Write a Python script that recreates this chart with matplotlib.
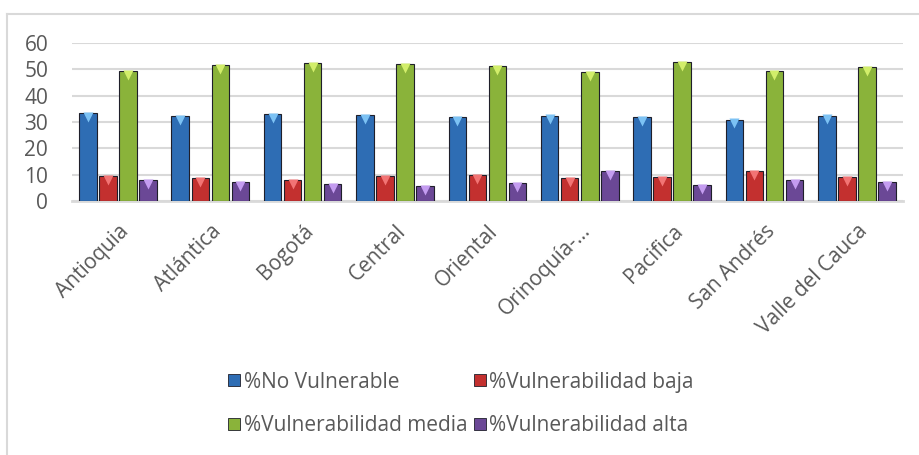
import matplotlib.pyplot as plt
import matplotlib.transforms as mtransforms
from matplotlib.lines import Line2D
import numpy as np

plt.rcParams['font.family'] = ['Open Sans', 'DejaVu Sans']

# data
regiones = ['Antioquia', 'Atlántica', 'Bogotá', 'Central', 'Oriental',
            'Orinoquía-…', 'Pacifica', 'San Andrés', 'Valle del Cauca']
no_vulnerable = [33.2, 32.1, 33.0, 32.6, 31.7, 32.4, 31.7, 30.9, 32.4]
vuln_baja = [9.5, 8.7, 8.0, 9.5, 9.8, 8.7, 9.1, 11.4, 9.1]
vuln_media = [49.2, 51.5, 52.3, 51.9, 51.1, 48.9, 52.7, 49.2, 50.8]
vuln_alta = [8.0, 7.2, 6.4, 5.7, 6.8, 11.4, 6.1, 8.0, 7.2]

series = [
    ('%No Vulnerable', no_vulnerable, '#2E6DB4', '#7CC2F4'),
    ('%Vulnerabilidad baja', vuln_baja, '#C3302F', '#F27474'),
    ('%Vulnerabilidad media', vuln_media, '#8AB33A', '#D2EE6A'),
    ('%Vulnerabilidad alta', vuln_alta, '#6B4896', '#C49CF0'),
]

text_color = '#595959'
grid_color = '#D9D9D9'

fig = plt.figure(figsize=(9.2, 4.55), dpi=100)
ax = fig.add_axes([0.078, 0.558, 0.9035, 0.348])

x = np.arange(len(regiones))
step = 0.217
width = 0.19
# shift triangles down a little so they sit inside the top of the bar
tri_offset = mtransforms.ScaledTranslation(0, -2.6 / 72, fig.dpi_scale_trans)

handles = []
for i, (name, vals, col, light) in enumerate(series):
    xs = x + (i - 1.5) * step
    ax.bar(xs, vals, width, color=col, edgecolor='#1f1f2a', linewidth=0.8, zorder=3)
    ax.plot(xs, vals, linestyle='none', marker='v', markersize=7,
            markerfacecolor=light, markeredgecolor='none', zorder=4,
            transform=ax.transData + tri_offset)
    handles.append(Line2D([], [], linestyle='none', marker='s', markersize=8,
                          markerfacecolor=col, markeredgecolor='#1f1f2a',
                          markeredgewidth=0.6, label=name))

ax.set_ylim(0, 60)
ax.set_xlim(-0.5, len(regiones) - 0.5)
ax.set_yticks(range(0, 61, 10))
ax.yaxis.grid(True, color=grid_color, linewidth=1.5, zorder=0)
ax.set_axisbelow(True)
for s in ['top', 'right', 'left']:
    ax.spines[s].set_visible(False)
ax.spines['bottom'].set_color(grid_color)
ax.spines['bottom'].set_linewidth(2)
ax.tick_params(axis='both', length=0, colors=text_color, labelsize=15)
ax.tick_params(axis='y', pad=17)
ax.set_xticks(x)
ax.set_xticklabels(regiones, rotation=45, ha='right', rotation_mode='anchor')
ax.tick_params(axis='x', pad=14)

# legend reads row by row: blue, red / green, purple
order = [0, 2, 1, 3]
leg = fig.legend(handles=[handles[k] for k in order], ncol=2, loc='center',
                 bbox_to_anchor=(0.5, 0.112), frameon=False, fontsize=15,
                 labelcolor=text_color, handletextpad=0.05, columnspacing=0.2,
                 labelspacing=1.1, handlelength=0.8)

# chart frame (only top and left visible in the crop)
fig.add_artist(Line2D([7 / 920, 1], [1 - 14 / 455, 1 - 14 / 455],
                      transform=fig.transFigure, color=grid_color, linewidth=1.5))
fig.add_artist(Line2D([7 / 920, 7 / 920], [0, 1 - 14 / 455],
                      transform=fig.transFigure, color=grid_color, linewidth=1.5))

fig.savefig('out.png', dpi=100, facecolor='white')
